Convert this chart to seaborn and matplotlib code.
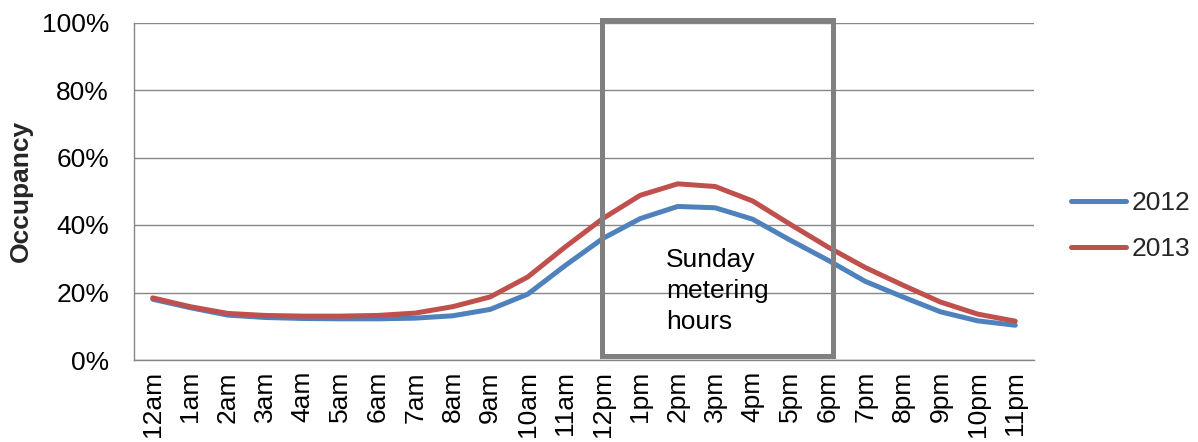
import numpy as np
import pandas as pd
import matplotlib
matplotlib.use("Agg")
import matplotlib.pyplot as plt
import seaborn as sns
from matplotlib.patches import Rectangle
from matplotlib.ticker import PercentFormatter, FixedLocator
from matplotlib.lines import Line2D

# Hourly occupancy on Sundays, by year (percent)
hours = ["12am", "1am", "2am", "3am", "4am", "5am", "6am", "7am", "8am", "9am",
         "10am", "11am", "12pm", "1pm", "2pm", "3pm", "4pm", "5pm", "6pm", "7pm",
         "8pm", "9pm", "10pm", "11pm"]
occ_2012 = [18.0, 15.5, 13.3, 12.6, 12.3, 12.2, 12.2, 12.4, 13.1, 15.0,
            19.5, 28.0, 36.0, 41.9, 45.5, 45.1, 41.7, 35.5, 29.6, 23.3,
            18.7, 14.3, 11.6, 10.3]
occ_2013 = [18.4, 15.8, 13.8, 13.2, 13.0, 13.0, 13.2, 13.9, 15.8, 18.7,
            24.6, 33.5, 41.9, 48.8, 52.2, 51.4, 47.1, 40.2, 33.5, 27.4,
            22.2, 17.2, 13.6, 11.5]
years = ["2012", "2013"]
colors = ["#4F81BD", "#C0504D"]

# Sunday metering window (12pm to 6pm)
meter_start = hours.index("12pm")
meter_end = hours.index("6pm")

sns.set_theme(style="white")
plt.rcParams["font.family"] = ["Liberation Sans", "DejaVu Sans"]

df = pd.DataFrame({
    "hour": list(range(len(hours))) * 2,
    "occupancy": occ_2012 + occ_2013,
    "year": [years[0]] * len(hours) + [years[1]] * len(hours),
})

W, H = 1198, 442
fig = plt.figure(figsize=(W / 100, H / 100), dpi=100)
ax = fig.add_axes([134 / W, 1 - 360 / H, 900 / W, 337.5 / H])

sns.lineplot(data=df, x="hour", y="occupancy", hue="year", palette=colors,
             linewidth=3.6, ax=ax, legend=False, solid_capstyle="round")

grey = "#868686"
fs = 19

ax.set_xlim(-0.5, len(hours) - 0.5)
ax.set_ylim(0, 100)
ax.set_yticks(np.arange(0, 101, 20))
ax.yaxis.set_major_formatter(PercentFormatter(decimals=0))
ax.yaxis.grid(True, color=grey, linewidth=1)
ax.set_axisbelow(True)

ax.set_xticks(range(len(hours)))
ax.set_xticklabels(hours, rotation=90)
ax.xaxis.set_minor_locator(FixedLocator(np.arange(-0.5, len(hours), 1)))
ax.tick_params(axis="x", which="major", length=0, pad=8, labelsize=fs, colors="black")
ax.tick_params(axis="x", which="minor", length=6, width=1, color=grey, direction="out")
ax.tick_params(axis="y", which="major", length=6, width=1, color=grey, direction="out",
               labelsize=fs, labelcolor="black", pad=12)

for side in ["top", "right"]:
    ax.spines[side].set_visible(False)
for side in ["left", "bottom"]:
    ax.spines[side].set_color(grey)
    ax.spines[side].set_linewidth(1)

ax.set_xlabel("")
ax.set_ylabel("Occupancy", fontsize=fs, fontweight="bold")
ax.yaxis.set_label_coords(-0.112, 0.5)

# Box marking the metering hours
ax.add_patch(Rectangle((meter_start - 0.01, 1.3), (meter_end + 0.13) - (meter_start - 0.01), 99.4,
                       fill=False, edgecolor="#808080", linewidth=3.6,
                       clip_on=False, joinstyle="miter", zorder=5))
ax.text(meter_start + 1.69, 33.2, "Sunday\nmetering\nhours", fontsize=fs,
        ha="left", va="top", color="black", linespacing=1.38, zorder=6)

handles = [Line2D([], [], color=c, linewidth=3.6, solid_capstyle="round") for c in colors]
fig.legend(handles, years, loc="center left", bbox_to_anchor=(1071 / W, 1 - 226 / H),
           frameon=False, fontsize=fs, handlelength=2.1, handletextpad=0.2,
           labelspacing=0.85, borderpad=0, borderaxespad=0)

fig.savefig("out.png", dpi=100)
